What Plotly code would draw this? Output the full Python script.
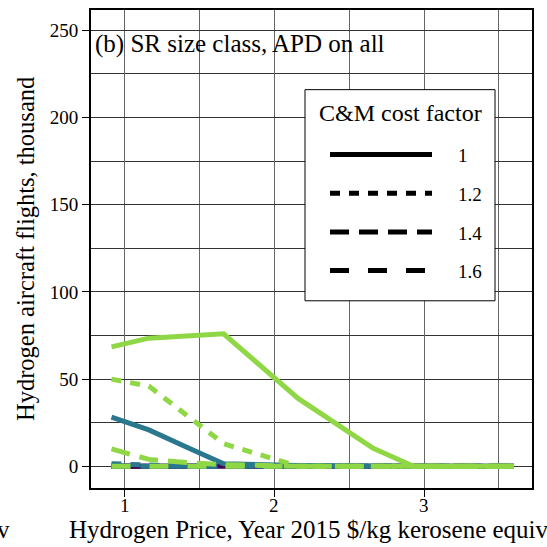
import plotly.graph_objects as go

# Hydrogen price grid ($/kg kerosene equivalent)
price = [0.91, 1.16, 1.41, 1.66, 2.16, 2.66, 2.93, 3.6]

# Hydrogen aircraft flights (thousand) by scenario colour and C&M cost factor
purple_1 = [0, 0, 0, 0, 0, 0, 0, 0]
purple_12 = [0, 0, 0, 0, 0, 0, 0, 0]
purple_14 = [0, 0, 0, 0, 0, 0, 0, 0]
purple_16 = [0, 0, 0, 0, 0, 0, 0, 0]

teal_1 = [28.2, 20.9, 11.1, 1.5, 0.5, 0, 0, 0]
teal_12 = [1.5, 0.5, 0, 0, 0, 0, 0, 0]
teal_14 = [0, 0, 0, 0, 0, 0, 0, 0]
teal_16 = [0, 0, 0, 0, 0, 0, 0, 0]

green_1 = [68.5, 73.5, 74.8, 76.0, 38.8, 10.3, 0, 0]
green_12 = [50.0, 46.0, 29.5, 13.0, 0, 0, 0, 0]
green_14 = [10.0, 4.0, 2.2, 1.0, 0, 0, 0, 0]
green_16 = [0, 0, 0, 0, 0, 0, 0, 0]

cost_factors = ["1", "1.2", "1.4", "1.6"]
x_ticks = [1, 2, 3]
y_ticks = [0, 50, 100, 150, 200, 250]

PURPLE = "#440154"
TEAL = "#2a788e"
GREEN = "#8fd744"
DASHES = ["solid", "10px,9px", "19px,10px", "19px,19px"]
FONT = "Liberation Serif"
LW = 5
SMALL = 19
BIG = 25

W, H = 547, 547
ML, MR, MT, MB = 91, 15, 8, 59
PW, PH = W - ML - MR, H - MT - MB


def px(x):
    return (x - ML) / PW


def py(y):
    return 1 - (y - MT) / PH


fig = go.Figure()

groups = [
    (PURPLE, [purple_1, purple_12, purple_14, purple_16]),
    (TEAL, [teal_1, teal_12, teal_14, teal_16]),
    (GREEN, [green_1, green_12, green_14, green_16]),
]
for color, series in groups:
    for vals, dash, cf in zip(series, DASHES, cost_factors):
        fig.add_trace(go.Scatter(
            x=price, y=vals, mode="lines",
            line=dict(color=color, width=LW, dash=dash),
            name=cf, showlegend=False, hoverinfo="skip",
        ))

fig.update_xaxes(
    range=[0.773, 3.722], tickvals=x_ticks, showticklabels=False,
    ticks="outside", ticklen=7, tickwidth=1, tickcolor="black",
    showgrid=True, gridcolor="#666666", gridwidth=1,
    minor=dict(dtick=0.5, tick0=0.5, showgrid=True, gridcolor="#666666", gridwidth=1),
    showline=True, linecolor="black", linewidth=2, mirror=True,
    zeroline=False,
)
fig.update_yaxes(
    range=[-12.4, 261.6], tickvals=y_ticks,
    ticks="outside", ticklen=7, tickwidth=1, tickcolor="black",
    showgrid=True, gridcolor="#333333", gridwidth=1,
    minor=dict(dtick=25, tick0=0, showgrid=True, gridcolor="#333333", gridwidth=1),
    showline=True, linecolor="black", linewidth=2, mirror=True,
    zeroline=False, tickfont=dict(family=FONT, size=SMALL, color="black"),
)

shapes = []
annotations = []

# x tick labels, placed on the x scale just under the axis
for t in x_ticks:
    annotations.append(dict(text=str(t), xref="x", yref="paper", x=t, y=py(506),
                            xanchor="center", yanchor="middle", showarrow=False,
                            font=dict(family=FONT, size=SMALL, color="black")))

# legend box
shapes.append(dict(type="rect", xref="paper", yref="paper",
                   x0=px(305), x1=px(495), y0=py(300), y1=py(88),
                   fillcolor="white", line=dict(color="black", width=1),
                   layer="above"))
annotations.append(dict(text="C&M cost factor", xref="paper", yref="paper",
                        x=px(400), y=py(111), xanchor="center", yanchor="middle",
                        showarrow=False, font=dict(family=FONT, size=24, color="black")))
entry_y = [153, 192, 231, 269.5]
for cf, dash, ey in zip(cost_factors, DASHES, entry_y):
    shapes.append(dict(type="line", xref="paper", yref="paper",
                       x0=px(330), x1=px(432), y0=py(ey), y1=py(ey),
                       line=dict(color="black", width=LW, dash=dash), layer="above"))
    annotations.append(dict(text=cf, xref="paper", yref="paper",
                            x=px(456), y=py(ey + 1), xanchor="left", yanchor="middle",
                            showarrow=False, font=dict(family=FONT, size=SMALL, color="black")))

# panel label
annotations.append(dict(text="(b) SR size class, APD on all", xref="paper", yref="paper",
                        x=px(93), y=py(42), xanchor="left", yanchor="middle",
                        showarrow=False, font=dict(family=FONT, size=BIG, color="black")))

# axis titles
annotations.append(dict(text="Hydrogen Price, Year 2015 $/kg kerosene equiv",
                        xref="paper", yref="paper", x=px(309), y=py(530),
                        xanchor="center", yanchor="middle", showarrow=False,
                        font=dict(family=FONT, size=BIG, color="black")))
annotations.append(dict(text="Hydrogen aircraft flights, thousand",
                        xref="paper", yref="paper", x=px(25), y=py(248),
                        xanchor="center", yanchor="middle", textangle=-90, showarrow=False,
                        font=dict(family=FONT, size=24.5, color="black")))
# tail of the neighbouring panel's axis title
annotations.append(dict(text="v", xref="paper", yref="paper", x=px(-5), y=py(530),
                        xanchor="left", yanchor="middle", showarrow=False,
                        font=dict(family=FONT, size=BIG, color="black")))

fig.update_layout(
    width=W, height=H,
    margin=dict(l=ML, r=MR, t=MT, b=MB),
    paper_bgcolor="white", plot_bgcolor="white",
    font=dict(family=FONT, size=SMALL, color="black"),
    shapes=shapes, annotations=annotations,
    showlegend=False,
)

fig.write_html("out.html")
